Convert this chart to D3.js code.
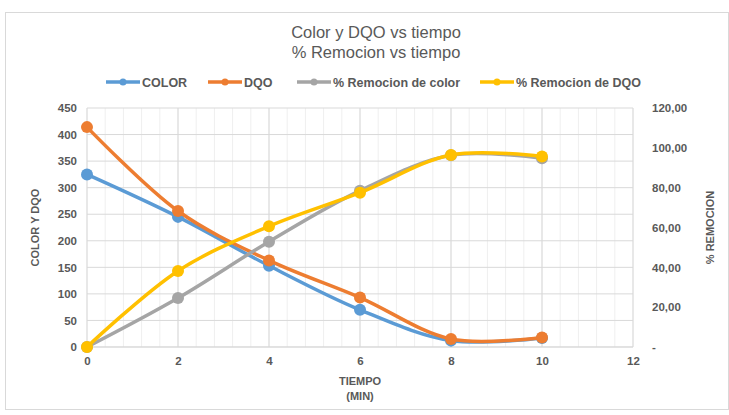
<!DOCTYPE html>
<html>
<head>
<meta charset="utf-8" />
<title>Color y DQO vs tiempo</title>
<script src="https://cdn.jsdelivr.net/npm/d3@7/dist/d3.min.js"></script>
<style>
    body { margin: 0; background: #fff; }
    text { font-family: "Liberation Sans", sans-serif; fill: #595959; }
</style>
</head>
<body>
<script>
// data
var tiempo = [0, 2, 4, 6, 8, 10];
var color = [325, 245, 153, 70, 12, 17];
var dqo = [414, 256, 163, 93, 15, 18];
var remColor = [0, 24.6, 52.9, 78.5, 96.3, 94.8];
var remDqo = [0, 38.2, 60.6, 77.5, 96.4, 95.7];
var leftTicks = [0, 50, 100, 150, 200, 250, 300, 350, 400, 450];
var rightTicks = [0, 20, 40, 60, 80, 100, 120];
var xTicks = [0, 2, 4, 6, 8, 10, 12];

var series = [
    { name: 'COLOR', values: color, axis: 'left', stroke: '#5B9BD5' },
    { name: 'DQO', values: dqo, axis: 'left', stroke: '#ED7D31' },
    { name: '% Remocion de color', values: remColor, axis: 'right', stroke: '#A5A5A5' },
    { name: '% Remocion de DQO', values: remDqo, axis: 'right', stroke: '#FFC000' }
];

var W = 729, H = 415;
var margin = { top: 108, right: 96, bottom: 68, left: 87 };
var width = W - margin.left - margin.right,
    height = H - margin.top - margin.bottom;

var x = d3.scaleLinear().domain([0, 12]).range([0, width]);
var yL = d3.scaleLinear().domain([0, 450]).range([height, 0]);
var yR = d3.scaleLinear().domain([0, 120]).range([height, 0]);

var svg = d3.select('body').append('svg')
    .attr('width', W)
    .attr('height', H);

// chart frame
svg.append('rect')
    .attr('x', 5.5).attr('y', 12.5)
    .attr('width', W - 6).attr('height', 397)
    .attr('fill', '#fff').attr('stroke', '#d9d9d9');

var g = svg.append('g')
    .attr('transform', 'translate(' + margin.left + ',' + margin.top + ')');

// minor vertical gridlines
g.append('g').selectAll('line')
    .data(d3.range(0, 12.01, 0.4))
    .enter().append('line')
    .attr('x1', function(d) { return x(d); })
    .attr('x2', function(d) { return x(d); })
    .attr('y1', 0).attr('y2', height)
    .attr('stroke', '#efefef');

// major vertical gridlines
g.append('g').selectAll('line')
    .data(xTicks)
    .enter().append('line')
    .attr('x1', function(d) { return x(d); })
    .attr('x2', function(d) { return x(d); })
    .attr('y1', 0).attr('y2', height)
    .attr('stroke', '#d9d9d9');

// horizontal gridlines
g.append('g').selectAll('line')
    .data(leftTicks)
    .enter().append('line')
    .attr('x1', 0).attr('x2', width)
    .attr('y1', function(d) { return yL(d); })
    .attr('y2', function(d) { return yL(d); })
    .attr('stroke', '#d9d9d9');

// axes
var xAxis = g.append('g')
    .attr('transform', 'translate(0,' + height + ')')
    .call(d3.axisBottom(x).tickValues(xTicks).tickSize(0).tickPadding(10));
var leftAxis = g.append('g')
    .call(d3.axisLeft(yL).tickValues(leftTicks).tickSize(0).tickPadding(10));
var rightAxis = g.append('g')
    .attr('transform', 'translate(' + width + ',0)')
    .call(d3.axisRight(yR).tickValues(rightTicks).tickSize(0).tickPadding(19)
        .tickFormat(function(d) { return d === 0 ? '-' : d3.format('.2f')(d).replace('.', ','); }));

[xAxis, leftAxis, rightAxis].forEach(function(a) {
    a.select('.domain').remove();
    a.selectAll('text').style('font-size', '11.5px').style('font-weight', 'bold').attr('fill', '#595959');
});
g.append('line')
    .attr('x1', 0).attr('x2', width)
    .attr('y1', height).attr('y2', height)
    .attr('stroke', '#d9d9d9');

// lines + markers
var line = function(s) {
    var yy = s.axis === 'left' ? yL : yR;
    return d3.line()
        .curve(d3.curveCatmullRom.alpha(0.5))
        .x(function(d, i) { return x(tiempo[i]); })
        .y(function(d) { return yy(d); });
};

series.forEach(function(s) {
    var yy = s.axis === 'left' ? yL : yR;
    g.append('path')
        .datum(s.values)
        .attr('fill', 'none')
        .attr('stroke', s.stroke)
        .attr('stroke-width', 3.5)
        .attr('stroke-linejoin', 'round')
        .attr('d', line(s));
    g.append('g').selectAll('circle')
        .data(s.values)
        .enter().append('circle')
        .attr('cx', function(d, i) { return x(tiempo[i]); })
        .attr('cy', function(d) { return yy(d); })
        .attr('r', 6)
        .attr('fill', s.stroke);
});

// titles
svg.append('text')
    .attr('x', 376).attr('y', 38)
    .attr('text-anchor', 'middle')
    .style('font-size', '16.5px')
    .text('Color y DQO vs tiempo');
svg.append('text')
    .attr('x', 376).attr('y', 58)
    .attr('text-anchor', 'middle')
    .style('font-size', '16.5px')
    .text('% Remocion vs tiempo');

// axis titles
svg.append('text')
    .attr('transform', 'translate(39,' + (margin.top + height / 2) + ') rotate(-90)')
    .attr('text-anchor', 'middle')
    .style('font-size', '11px').style('font-weight', 'bold')
    .text('COLOR Y DQO');
svg.append('text')
    .attr('transform', 'translate(714,' + (margin.top + height / 2) + ') rotate(-90)')
    .attr('text-anchor', 'middle')
    .style('font-size', '11px').style('font-weight', 'bold')
    .text('% REMOCION');
svg.append('text')
    .attr('x', margin.left + x(6)).attr('y', 385)
    .attr('text-anchor', 'middle')
    .style('font-size', '11px').style('font-weight', 'bold')
    .text('TIEMPO');
svg.append('text')
    .attr('x', margin.left + x(6)).attr('y', 400)
    .attr('text-anchor', 'middle')
    .style('font-size', '11px').style('font-weight', 'bold')
    .text('(MIN)');

// legend
var legendX = [106, 208, 297, 480];
var legend = svg.append('g').selectAll('g')
    .data(series)
    .enter().append('g')
    .attr('transform', function(d, i) { return 'translate(' + legendX[i] + ',82)'; });
legend.append('line')
    .attr('x1', 0).attr('x2', 34)
    .attr('stroke', function(d) { return d.stroke; })
    .attr('stroke-width', 3.5);
legend.append('circle')
    .attr('cx', 17).attr('r', 3.5)
    .attr('fill', function(d) { return d.stroke; });
legend.append('text')
    .attr('x', 36).attr('y', 4.5)
    .style('font-size', '12.5px').style('font-weight', 'bold')
    .text(function(d) { return d.name; });
</script>
</body>
</html>
